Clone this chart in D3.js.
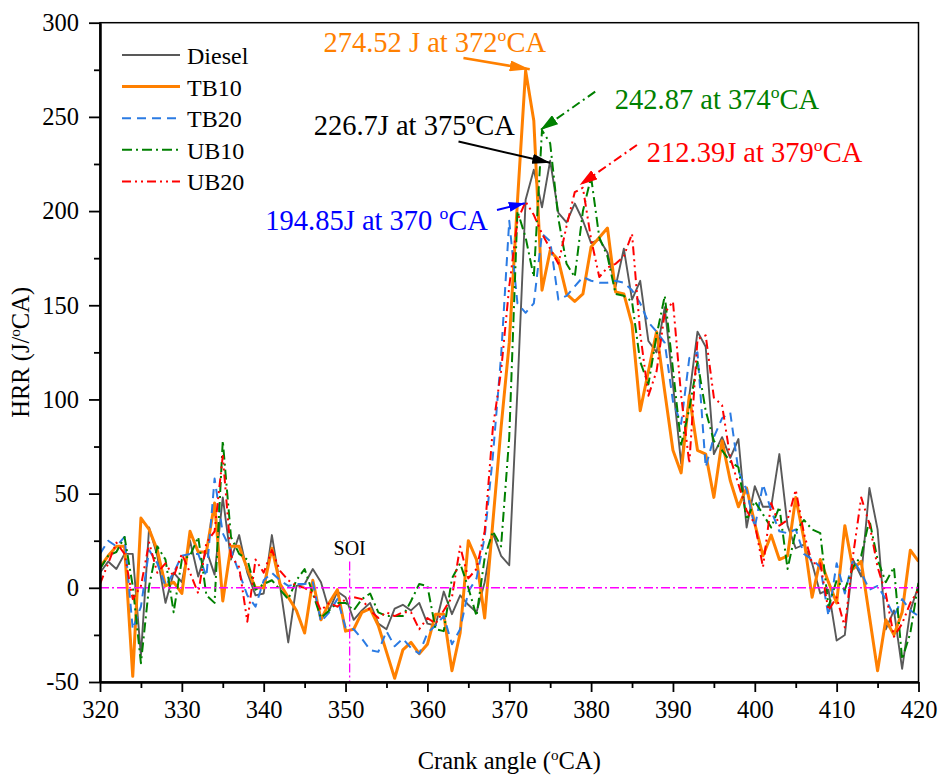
<!DOCTYPE html>
<html>
<head>
<meta charset="utf-8">
<script src="https://cdn.jsdelivr.net/npm/d3@7"></script>
<style>
  body { margin: 0; background: #fff; }
  svg { display: block; }
  svg text { font-family: "Liberation Serif", Tinos, "Times New Roman", Times, "DejaVu Serif", "Noto Serif", serif; }
</style>
</head>
<body>
<svg id="chart" width="939" height="776"></svg>
<script>
// Heat release rate vs crank angle, one value per degree from 320 to 420 °CA
const angleStart = 320, angleEnd = 420;
const crankAngle = d3.range(angleStart, angleEnd + 1);

const diesel = [
  8, 14, 10, 18, 18, -36, 32, 17, -8, 8,
  3, 25, 6, 20, 7, 48, 15, 28, 8, -4,
  -3, 28, 1, -29, 1, 2, 10, 3, -12, -2,
  -5, -17, -12, -8, -19, -22, -11, -9, -12, -8,
  -19, -20, -2, -14, -4, -9, -13, 3, 29, 17,
  12, 105, 206, 222, 202, 226.7, 199, 194, 204, 195,
  183, 185, 178, 160, 180, 153, 163, 131, 125, 149,
  108, 66, 102, 136, 128, 71, 80, 69, 79, 32,
  54, 43, 43, 71, 33, 21, 23, 13, -3, -1,
  -28, -25, 15, 6, 53, 31, -22, -12, -43, -12,
  1
];
const tb10 = [
  11, 17, 22, 22, -47, 37, 31, 20, 1, 3,
  -3, 30, 19, 19, 45, -7, 22, 22, 10, 0,
  0, 21, 2, -5, -12, -24, 4, -17, -8, -1,
  -23, -22, -13, -11, -20, -34, -48, -33, -29, -35,
  -30, -14, -14, -44, -24, 25, 15, -16, 35, 85,
  130, 205, 274.52, 248, 158, 179, 174, 156, 152, 156,
  181, 186, 191, 157, 156, 140, 94, 115, 136, 104,
  73, 61, 102, 73, 71, 48, 78, 57, 43, 53,
  34, 17, 28, 15, 17, 48, 26, -5, 15, 3,
  -8, 33, 10, 14, -15, -44, -17, -25, -13, 20,
  14
];
const tb20 = [
  18, 25, 22, 27, -22, -10, 20, 13, 1, 8,
  17, 18, 18, 6, 58, 29, 20, 8, -4, -10,
  4, 8, 4, 1, 2, 2, 3, -18, -13, -6,
  -21, -22, -27, -33, -34, -23, -31, -27, -32, -35,
  -24, -20, -15, -30, -22, -2, 5, 27, 70, 123,
  194.85, 151, 146, 151, 188, 184, 153, 155, 160, 165,
  163, 162, 162, 163, 162, 158, 151, 141, 136, 130,
  99, 87, 122, 125, 64, 80, 90, 93, 62, 52,
  32, 55, 41, 30, 29, 31, 18, 15, 11, -15,
  13, -3, 15, 8, -1, 1, -6, -15, -6, -12,
  -15
];
const ub10 = [
  10, 17, 19, 27, 1, -40, 1, 22, 15, -13,
  15, 17, 27, -4, -8, 78, 27, 18, 15, -1,
  2, 4, -1, -6, 4, 10, -3, -16, -12, -8,
  -8, -12, -6, -3, -13, -15, -15, -15, -7, 2,
  1, -22, -23, 5, 13, 0, -15, 16, 30, 22,
  80, 200, 186, 165, 242.87, 236, 196, 172, 165, 200,
  218, 186, 176, 156, 155, 152, 120, 108, 134, 155,
  116, 76, 95, 120, 94, 78, 73, 67, 64, 36,
  46, 39, 32, 43, 10, 30, 36, 31, 29, -10,
  4, -1, 11, 17, 36, 15, 3, 11, -38, -24,
  3
];
const ub20 = [
  2, 13, 24, 18, -6, 1, 24, 8, 13, 6,
  18, 8, -3, 24, 30, 70, 17, 11, -18, 15,
  8, 20, 9, 4, 1, 0, -3, -12, -8, -10,
  -6, -5, -6, -12, -16, -13, -15, -13, -13, -22,
  -16, -19, -12, -5, 22, 5, 10, 30, 85, 115,
  160, 195, 205, 198, 188, 180, 172, 192, 210, 212.39,
  185, 165, 170, 172, 176, 188, 135, 102, 115, 146,
  152, 102, 66, 132, 134, 101, 97, 69, 55, 41,
  34, 11, 45, 33, 36, 52, 29, 13, 13, -12,
  -5, -21, 17, 48, 34, 11, -3, -26, -19, -8,
  -1
];

const seriesNames = ["Diesel", "TB10", "TB20", "UB10", "UB20"];
const seriesValues = [diesel, tb10, tb20, ub10, ub20];

const xMajorTicks = [320, 330, 340, 350, 360, 370, 380, 390, 400, 410, 420];
const xMinorTicks = [325, 335, 345, 355, 365, 375, 385, 395, 405, 415];
const yMajorTicks = [-50, 0, 50, 100, 150, 200, 250, 300];
const yMinorTicks = [-25, 25, 75, 125, 175, 225, 275];

// Start of injection marker
const soiAngle = 350.5;
const soiLabel = "SOI";

// Peak callouts: label text for each arrow
const peakLabels = ["274.52 J at 372", "226.7J at 375", "194.85J at 370 ", "242.87 at 374", "212.39J at 379"];

// ---- styling / layout ----
const FONT = "'Liberation Serif', Tinos, 'Times New Roman', Times, 'DejaVu Serif', 'Noto Serif', serif";
const plot = { left: 100, right: 918.5, top: 22.7, bottom: 682 };
const labelSize = 24.5, calloutSize = 28.5;

const styles = {
  Diesel: { color: "#595959", width: 1.9, dash: null },
  TB10:   { color: "#FF8000", width: 3, dash: null },
  TB20:   { color: "#2B7BE3", width: 2, dash: "9,6" },
  UB10:   { color: "#008000", width: 2, dash: "10,4,2,4" },
  UB20:   { color: "#FF0000", width: 2, dash: "9,4,2,4,2,4" }
};

// callout layout, in data units: label origin, arrow tail, arrow tip
const callouts = [
  { tx: 347.3, ty: 284.3, from: [364.4, 281.3], to: [372.5, 275.3], color: "#FF8000", width: 2.5, dash: null, head: [20, 11] },
  { tx: 346.1, ty: 240.4, from: [363.8, 236.9], to: [375.0, 225.6], color: "#000000", width: 2, dash: null, head: [18, 10] },
  { tx: 340.2, ty: 190.2, from: [368.5, 200.6], to: [371.9, 204.2], color: "#0000FF", width: 2, dash: null, head: [16, 10] },
  { tx: 382.9, ty: 254.2, from: [380.5, 263.4], to: [373.8, 243.0], color: "#008000", width: 2, dash: "9,4,2,4", head: [18, 11] },
  { tx: 386.8, ty: 226.0, from: [385.6, 235.1], to: [378.6, 213.8], color: "#FF0000", width: 2, dash: "9,4,2,4", head: [18, 11] }
];

const svg = d3.select("#chart");

const x = d3.scaleLinear().domain([angleStart, angleEnd]).range([plot.left, plot.right]);
const y = d3.scaleLinear().domain([-50, 300]).range([plot.bottom, plot.top]);

const defs = svg.append("defs");
defs.append("clipPath").attr("id", "plotClip")
  .append("rect")
  .attr("x", plot.left).attr("y", plot.top)
  .attr("width", plot.right - plot.left).attr("height", plot.bottom - plot.top);

// series lines
const line = d3.line().x((d, i) => x(crankAngle[i])).y(d => y(d));
const linesG = svg.append("g").attr("clip-path", "url(#plotClip)");
seriesNames.forEach((name, k) => {
  const s = styles[name];
  linesG.append("path")
    .datum(seriesValues[k])
    .attr("fill", "none")
    .attr("stroke", s.color)
    .attr("stroke-width", s.width)
    .attr("stroke-linejoin", "round")
    .attr("stroke-dasharray", s.dash)
    .attr("d", line);
});

// zero reference line and SOI marker
svg.append("line")
  .attr("x1", x(angleStart)).attr("x2", x(angleEnd))
  .attr("y1", y(0)).attr("y2", y(0))
  .attr("stroke", "#FF00FF").attr("stroke-width", 1.5)
  .attr("stroke-dasharray", "9,3,2,3");
svg.append("line")
  .attr("x1", x(soiAngle)).attr("x2", x(soiAngle))
  .attr("y1", y(14)).attr("y2", y(-50))
  .attr("stroke", "#FF00FF").attr("stroke-width", 1.3)
  .attr("stroke-dasharray", "9,3,2,3");
svg.append("text")
  .attr("x", x(soiAngle)).attr("y", y(17.5))
  .attr("text-anchor", "middle")
  .attr("font-family", FONT)
  .attr("font-size", 20)
  .text(soiLabel);

// frame
svg.append("rect")
  .attr("x", plot.left).attr("y", plot.top)
  .attr("width", plot.right - plot.left).attr("height", plot.bottom - plot.top)
  .attr("fill", "none").attr("stroke", "#000").attr("stroke-width", 1.5);

// axes
const fmt = d => String(d);
svg.append("g").attr("transform", `translate(0,${plot.bottom})`)
  .call(d3.axisBottom(x).tickValues(xMajorTicks).tickFormat(fmt).tickSize(10).tickSizeOuter(0).tickPadding(9));
svg.append("g").attr("transform", `translate(0,${plot.bottom})`)
  .call(d3.axisBottom(x).tickValues(xMinorTicks).tickFormat("").tickSize(6).tickSizeOuter(0));
svg.append("g").attr("transform", `translate(${plot.left},0)`)
  .call(d3.axisLeft(y).tickValues(yMajorTicks).tickFormat(fmt).tickSize(11).tickSizeOuter(0).tickPadding(10));
svg.append("g").attr("transform", `translate(${plot.left},0)`)
  .call(d3.axisLeft(y).tickValues(yMinorTicks).tickFormat("").tickSize(6).tickSizeOuter(0));

svg.selectAll("g").filter(function () { return this.hasAttribute("font-family"); })
  .attr("font-family", FONT);
svg.selectAll(".domain").attr("stroke", "#000").attr("stroke-width", 2);
svg.selectAll(".tick line").attr("stroke", "#000").attr("stroke-width", 1.8);
svg.selectAll(".tick text")
  .attr("font-family", FONT)
  .attr("font-size", labelSize).attr("fill", "#000");

// text with a raised small "o" for the degree mark
function degreeText(sel, before, after, size) {
  sel.attr("font-family", FONT);
  sel.append("tspan").text(before);
  sel.append("tspan").attr("font-size", size * 0.62).attr("dy", -size * 0.38).text("o");
  sel.append("tspan").attr("dy", size * 0.38).text(after);
}

// axis titles
const xt = svg.append("text")
  .attr("x", (plot.left + plot.right) / 2).attr("y", 769)
  .attr("text-anchor", "middle").attr("font-size", labelSize);
degreeText(xt, "Crank angle (", "CA)", labelSize);

const yt = svg.append("text")
  .attr("transform", `translate(29,${(plot.top + plot.bottom) / 2}) rotate(-90)`)
  .attr("text-anchor", "middle").attr("font-size", labelSize);
degreeText(yt, "HRR (J/", "CA)", labelSize);

// legend
const legend = svg.append("g");
seriesNames.forEach((name, k) => {
  const s = styles[name];
  const ly = 55 + k * 31.6;
  legend.append("line")
    .attr("x1", 122).attr("x2", 180).attr("y1", ly).attr("y2", ly)
    .attr("stroke", s.color).attr("stroke-width", s.width)
    .attr("stroke-dasharray", s.dash);
  legend.append("text")
    .attr("x", 187).attr("y", ly + 9)
    .attr("font-family", FONT)
    .attr("font-size", 24).text(name);
});

// peak callouts
callouts.forEach((c, k) => {
  const id = "head" + k;
  defs.append("marker")
    .attr("id", id)
    .attr("markerUnits", "userSpaceOnUse")
    .attr("markerWidth", c.head[0]).attr("markerHeight", c.head[1])
    .attr("refX", c.head[0]).attr("refY", c.head[1] / 2)
    .attr("orient", "auto")
    .append("path")
    .attr("d", `M0,0L${c.head[0]},${c.head[1] / 2}L0,${c.head[1]}Z`)
    .attr("fill", c.color);
  svg.append("line")
    .attr("x1", x(c.from[0])).attr("y1", y(c.from[1]))
    .attr("x2", x(c.to[0])).attr("y2", y(c.to[1]))
    .attr("stroke", c.color).attr("stroke-width", c.width)
    .attr("stroke-dasharray", c.dash)
    .attr("marker-end", `url(#${id})`);
  const t = svg.append("text")
    .attr("x", x(c.tx)).attr("y", y(c.ty))
    .attr("font-size", calloutSize).attr("fill", c.color);
  degreeText(t, peakLabels[k], "CA", calloutSize);
});
</script>
</body>
</html>
